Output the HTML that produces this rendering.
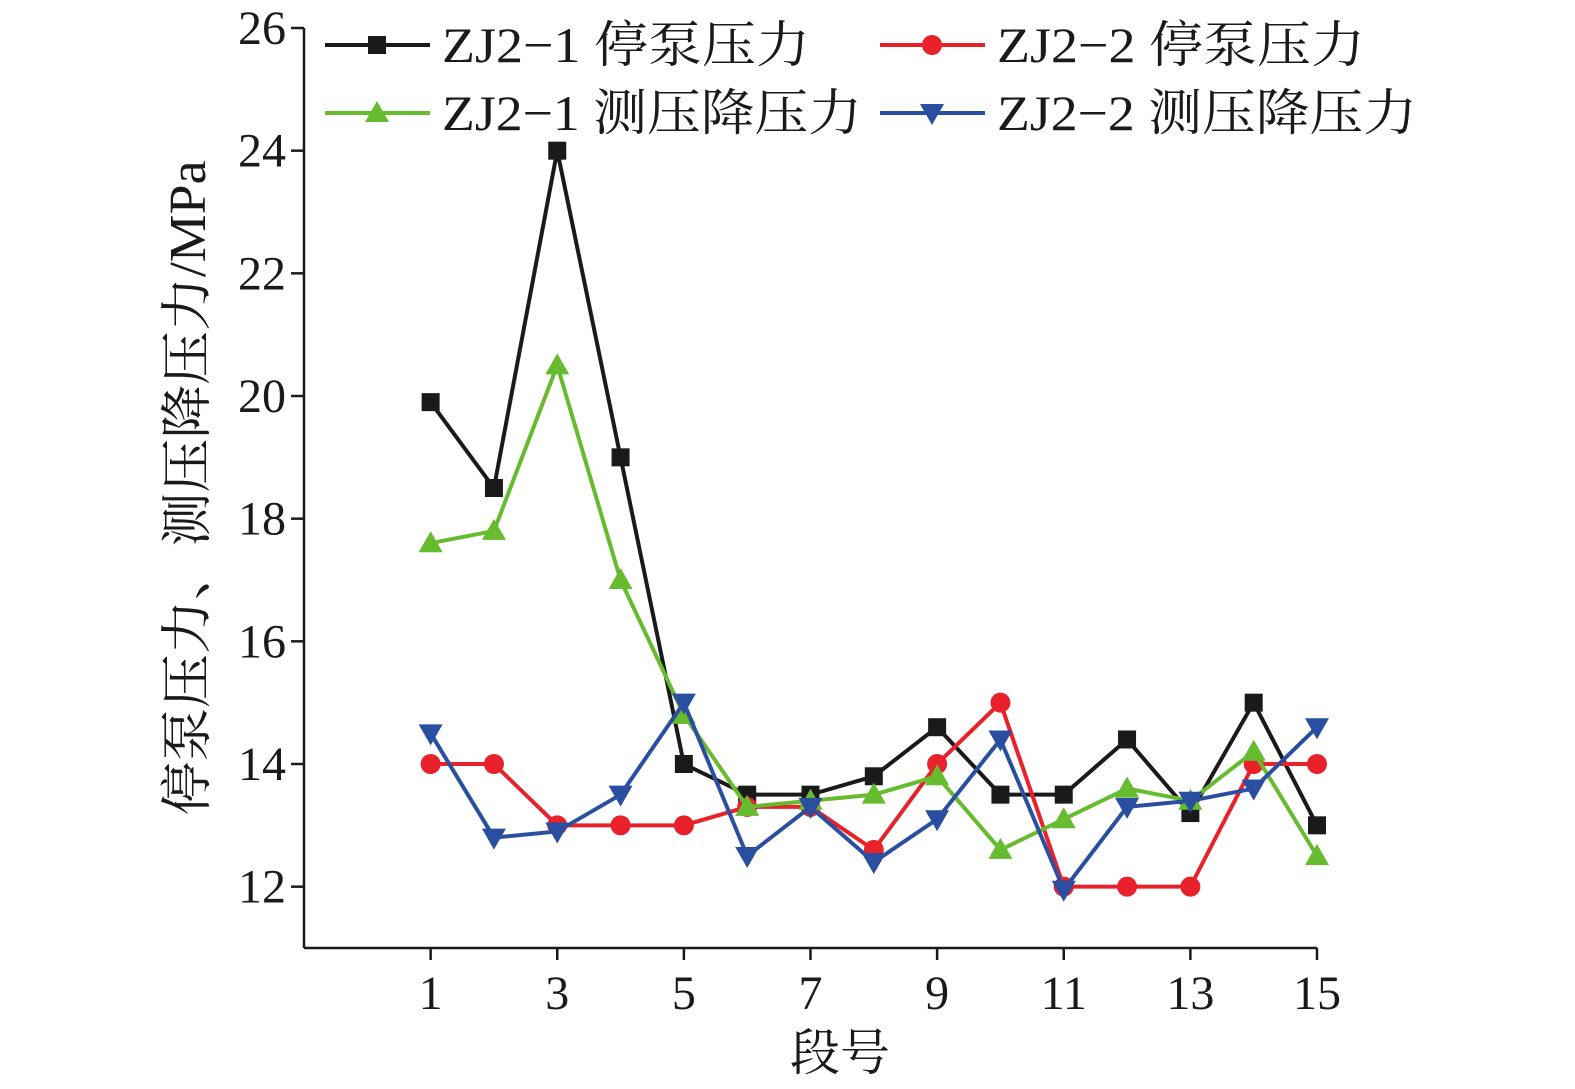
<!DOCTYPE html>
<html><head><meta charset="utf-8"><style>
body{margin:0;background:#fff}
text{font-family:"Liberation Serif","Noto Serif CJK SC",serif;fill:#1a1a1a}
</style></head><body>
<svg id="chart" width="1575" height="1084" xmlns="http://www.w3.org/2000/svg"></svg>
<script>
const categories=[1,2,3,4,5,6,7,8,9,10,11,12,13,14,15];
const xTicks=[1,3,5,7,9,11,13,15];
const yTicks=[12,14,16,18,20,22,24,26];
const s1=[19.9,18.5,24,19,14,13.5,13.5,13.8,14.6,13.5,13.5,14.4,13.2,15,13];
const s2=[14,14,13,13,13,13.3,13.3,12.6,14,15,12,12,12,14,14];
const s3=[17.6,17.8,20.5,17,14.8,13.3,13.4,13.5,13.8,12.6,13.1,13.6,13.4,14.2,12.5];
const s4=[14.5,12.8,12.9,13.5,15,12.5,13.3,12.4,13.1,14.4,11.95,13.3,13.4,13.6,14.6];
const names=["ZJ2−1 停泵压力","ZJ2−2 停泵压力","ZJ2−1 测压降压力","ZJ2−2 测压降压力"];
const svg=document.getElementById('chart');
const NS='http://www.w3.org/2000/svg';
const X0=304,X1=1317,Y0=948,Y1=28;
const xs=v=>X0+(v-(-1))/(15-(-1))*(X1-X0);
const ys=v=>Y0-(v-11)/(26-11)*(Y0-Y1);
function mk(tag,at,txt){const e=document.createElementNS(NS,tag);for(const k in at)e.setAttribute(k,at[k]);if(txt!=null)e.textContent=txt;svg.appendChild(e);return e;}
let e;
e=mk('line',{x1:X0,y1:Y1,x2:X0,y2:Y0,stroke:'#1a1a1a','stroke-width':2.5});


e=mk('line',{x1:X0,y1:Y0,x2:X1,y2:Y0,stroke:'#1a1a1a','stroke-width':2.5});


yTicks.forEach(t=>{
 e=mk('line',{x1:X0-13,y1:ys(t),x2:X0,y2:ys(t),stroke:'#1a1a1a','stroke-width':2.5});
 
 
 e=mk('text',{x:X0-18,y:ys(t)+16,'text-anchor':'end','font-size':48},t);
 
 
});
xTicks.forEach(t=>{
 e=mk('line',{x1:xs(t),y1:Y0,x2:xs(t),y2:Y0+12,stroke:'#1a1a1a','stroke-width':2.5});
 
 
 e=mk('text',{x:xs(t),y:1009,'text-anchor':'middle','font-size':48},t);
 
 
});
e=mk('text',{x:840,y:1070,'text-anchor':'middle','font-size':50},'段号');


e=mk('text',{x:0,y:0,'text-anchor':'middle','font-size':52,textLength:655,lengthAdjust:'spacingAndGlyphs',transform:'translate(205,488) rotate(-90)'},'停泵压力、测压降压力/MPa');


const colors=['#1a1a1a','#e8212a','#66bb2e','#2a4ea0'];
const shapes=['sq','ci','tu','td'];
function marker(shape,x,y,c){
 if(shape==='sq')return mk('rect',{x:x-9,y:y-9,width:18,height:18,fill:c});
 if(shape==='ci')return mk('circle',{cx:x,cy:y,r:10,fill:c});
 if(shape==='tu')return mk('polygon',{points:`${x},${y-12} ${x-12},${y+9} ${x+12},${y+9}`,fill:c});
 return mk('polygon',{points:`${x},${y+12} ${x-12},${y-9} ${x+12},${y-9}`,fill:c});
}
[s1,s2,s3,s4].forEach((s,i)=>{
 e=mk('polyline',{points:s.map((v,j)=>xs(categories[j])+','+ys(v)).join(' '),fill:'none',stroke:colors[i],'stroke-width':4});
 
 
 s.forEach((v,j)=>{
  e=marker(shapes[i],xs(categories[j]),ys(v),colors[i]);
  
  
 });
});
const lp=[[325,45],[880,45],[325,113],[880,113]];
const lw=[368,368,420,420];
lp.forEach((p,i)=>{
 e=mk('line',{x1:p[0],y1:p[1],x2:p[0]+105,y2:p[1],stroke:colors[i],'stroke-width':4});
 
 
 e=marker(shapes[i],p[0]+52,p[1],colors[i]);
 
 
 e=mk('text',{x:p[0]+117,y:p[1]+17,'font-size':50,textLength:lw[i],lengthAdjust:'spacingAndGlyphs'},names[i]);
 
 
});
</script>
</body></html>
